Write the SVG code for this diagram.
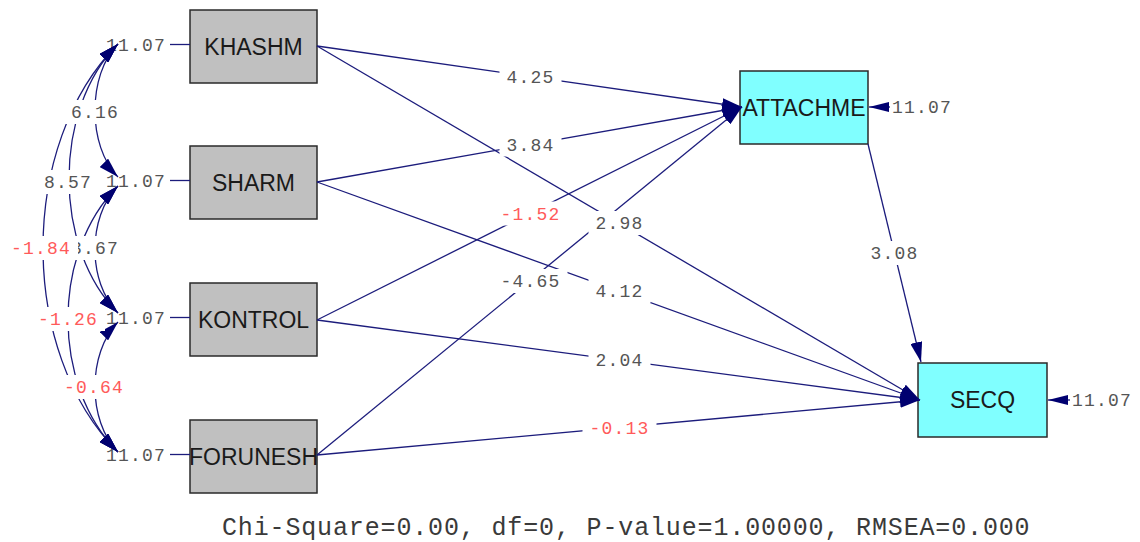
<svg xmlns="http://www.w3.org/2000/svg" width="1140" height="542" viewBox="0 0 1140 542">
  <style>
    .box { stroke: #2a2a2a; stroke-width: 1.5; }
    .obs { fill: #c0c0c0; }
    .lat { fill: #80ffff; }
    .name { font-family: "Liberation Sans", Arial, sans-serif; font-size: 23px; fill: #1a1a1a; text-anchor: middle; }
    .c { fill: none; stroke: #1c1c7c; stroke-width: 1.3; }
    .num { font-family: "Liberation Mono", "DejaVu Sans Mono", monospace; font-size: 18px; letter-spacing: 1.2px; text-anchor: middle; }
    .pos { fill: #555555; }
    .neg { fill: #ff5a5a; }
    .bg { fill: #ffffff; }
    .fit { font-family: "Liberation Mono", "DejaVu Sans Mono", monospace; font-size: 25px; letter-spacing: 0.85px; fill: #3a3a3a; }
  </style>
  <defs>
    <marker id="ah" viewBox="0 0 20 12" refX="20" refY="6" markerWidth="20" markerHeight="12" markerUnits="userSpaceOnUse" orient="auto">
      <path d="M0,0 L20,6 L0,12 z" fill="#000070"/>
    </marker>
    <marker id="ah2" viewBox="0 0 20 12" refX="20" refY="6" markerWidth="20" markerHeight="12" markerUnits="userSpaceOnUse" orient="auto-start-reverse">
      <path d="M0,0 L20,6 L0,12 z" fill="#000070"/>
    </marker>
    <marker id="ahs" viewBox="0 0 20 10" refX="20" refY="5" markerWidth="20" markerHeight="10" markerUnits="userSpaceOnUse" orient="auto">
      <path d="M0,0 L20,5 L0,10 z" fill="#000070"/>
    </marker>
  </defs>

  <rect width="1140" height="542" fill="#ffffff"/>

  <!-- observed variables -->
  <g id="KHASHM">
    <rect class="box obs" x="190" y="10" width="127" height="73"/>
    <text class="name" x="253.5" y="54.5">KHASHM</text>
  </g>
  <g id="SHARM">
    <rect class="box obs" x="190" y="146" width="127" height="73"/>
    <text class="name" x="253.5" y="190.5">SHARM</text>
  </g>
  <g id="KONTROL">
    <rect class="box obs" x="190" y="283" width="127" height="73"/>
    <text class="name" x="253.5" y="327.5">KONTROL</text>
  </g>
  <g id="FORUNESH">
    <rect class="box obs" x="190" y="420" width="127" height="73"/>
    <text class="name" x="253.5" y="464.5">FORUNESH</text>
  </g>
  <g id="ATTACHME">
    <rect class="box lat" x="740" y="71" width="128" height="73"/>
    <text class="name" x="804" y="115.5">ATTACHME</text>
  </g>
  <g id="SECQ">
    <rect class="box lat" x="918" y="363" width="129" height="74"/>
    <text class="name" x="982.5" y="408">SECQ</text>
  </g>

  <!-- error variances -->
  <g id="errors">
    <text class="num pos" x="136" y="50.5">11.07</text>
    <text class="num pos" x="136" y="187">11.07</text>
    <text class="num pos" x="136" y="323.5">11.07</text>
    <text class="num pos" x="136" y="461">11.07</text>
    <text class="num pos" x="922" y="113">11.07</text>
    <text class="num pos" x="1102" y="406">11.07</text>
  </g>

  <g id="connectors">
    <!-- error terms -->
    <path class="c" d="M170,44.5 L190,44.5"/>
    <path class="c" d="M170,180.5 L190,180.5"/>
    <path class="c" d="M170,317.5 L190,317.5"/>
    <path class="c" d="M170,454.5 L190,454.5"/>
    <path class="c" d="M890,107 L869,107" marker-end="url(#ahs)"/>
    <path class="c" d="M1070,400 L1048,400" marker-end="url(#ahs)"/>

    <!-- covariances among observed variables -->
    <path class="c" d="M118,44 C87.3,74.7 87.3,146.3 118,177" marker-start="url(#ah2)" marker-end="url(#ah2)"/>
    <path class="c" d="M118,44 C52.7,109.3 52.7,247.7 118,313" marker-start="url(#ah2)" marker-end="url(#ah2)"/>
    <path class="c" d="M118,186 C87.3,216.7 87.3,282.3 118,313" marker-start="url(#ah2)" marker-end="url(#ah2)"/>
    <path class="c" d="M118,44 C18,144 18,352 118,452" marker-start="url(#ah2)" marker-end="url(#ah2)"/>
    <path class="c" d="M118,186 C51.3,252.7 51.3,385.3 118,452" marker-start="url(#ah2)" marker-end="url(#ah2)"/>
    <path class="c" d="M118,322 C87.3,352.7 87.3,421.3 118,452" marker-start="url(#ah2)" marker-end="url(#ah2)"/>

    <!-- structural paths -->
    <path class="c" d="M317,46 L742,107" marker-end="url(#ah)"/>
    <path class="c" d="M317,46 L920,400" marker-end="url(#ah)"/>
    <path class="c" d="M317,182 L742,107" marker-end="url(#ah)"/>
    <path class="c" d="M317,182 L920,400" marker-end="url(#ah)"/>
    <path class="c" d="M317,320 L742,107" marker-end="url(#ah)"/>
    <path class="c" d="M317,320 L920,400" marker-end="url(#ah)"/>
    <path class="c" d="M317,455 L742,107" marker-end="url(#ah)"/>
    <path class="c" d="M317,455 L920,400" marker-end="url(#ah)"/>
    <path class="c" d="M868,144 L921,362" marker-end="url(#ah)"/>

    <!-- estimates -->
    <g id="path-labels">
      <rect class="bg" x="499.5" y="64.5" width="62" height="24"/>
      <text class="num pos" x="530.5" y="82.8">4.25</text>
      <rect class="bg" x="588.5" y="211" width="62" height="24"/>
      <text class="num pos" x="619.5" y="229.3">2.98</text>
      <rect class="bg" x="499.5" y="132.5" width="62" height="24"/>
      <text class="num pos" x="530.5" y="150.8">3.84</text>
      <rect class="bg" x="588.5" y="279" width="62" height="24"/>
      <text class="num pos" x="619.5" y="297.3">4.12</text>
      <rect class="bg" x="493.5" y="201.5" width="74" height="24"/>
      <text class="num neg" x="530.5" y="219.8">-1.52</text>
      <rect class="bg" x="588.5" y="348" width="62" height="24"/>
      <text class="num pos" x="619.5" y="366.3">2.04</text>
      <rect class="bg" x="493.5" y="269" width="74" height="24"/>
      <text class="num pos" x="530.5" y="287.3">-4.65</text>
      <rect class="bg" x="582.5" y="415.5" width="74" height="24"/>
      <text class="num neg" x="619.5" y="433.8">-0.13</text>
      <rect class="bg" x="863.5" y="241" width="62" height="24"/>
      <text class="num pos" x="894.5" y="259.3">3.08</text>
    </g>
    <g id="covariance-labels">
      <rect class="bg" x="64" y="100" width="62" height="24"/>
      <text class="num pos" x="95" y="118.3">6.16</text>
      <rect class="bg" x="37" y="170" width="62" height="24"/>
      <text class="num pos" x="68" y="188.3">8.57</text>
      <rect class="bg" x="64" y="236" width="62" height="24"/>
      <text class="num pos" x="95" y="254.3">3.67</text>
      <rect class="bg" x="4" y="236" width="74" height="24"/>
      <text class="num neg" x="41" y="254.3">-1.84</text>
      <rect class="bg" x="31" y="307" width="74" height="24"/>
      <text class="num neg" x="68" y="325.3">-1.26</text>
      <rect class="bg" x="57" y="375" width="74" height="24"/>
      <text class="num neg" x="94" y="393.3">-0.64</text>
    </g>
  </g>

  <text class="fit" x="222" y="535">Chi-Square=0.00, df=0, P-value=1.00000, RMSEA=0.000</text>
</svg>
